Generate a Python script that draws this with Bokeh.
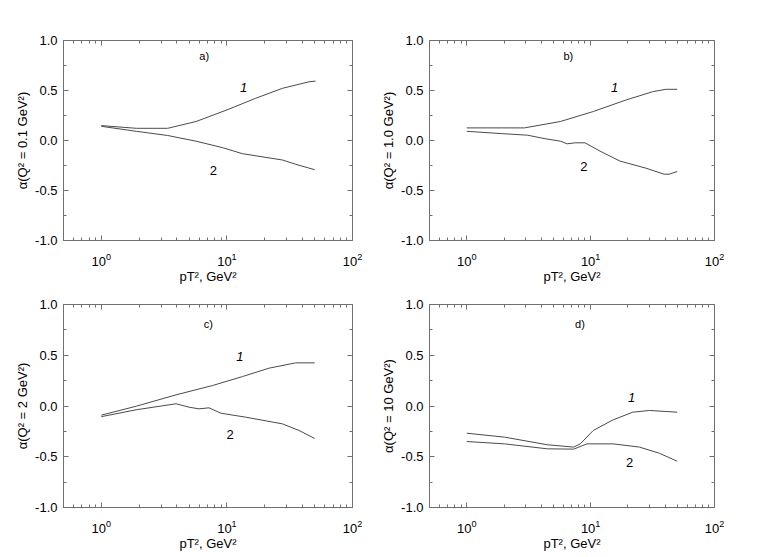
from bokeh.plotting import figure
from bokeh.models import LinearAxis, FixedTicker, Range1d, PrintfTickFormatter
from bokeh.layouts import column, row
from bokeh.embed import file_html
from bokeh.resources import INLINE
from bokeh.core.properties import value

# ---- data ----
a_x1 = [1.0, 1.9, 3.38, 5.68, 10.4, 17.0, 27.7, 45.0, 50.8]
a_y1 = [0.149, 0.122, 0.122, 0.19, 0.314, 0.423, 0.522, 0.587, 0.594]
a_x2 = [1.0, 1.9, 3.38, 5.68, 9.25, 13.3, 27.7, 35.3, 50.0]
a_y2 = [0.142, 0.092, 0.05, -0.007, -0.072, -0.132, -0.195, -0.238, -0.292]

b_x1 = [1.0, 2.92, 5.7, 10.5, 19.4, 31.7, 40.5, 50.0]
b_y1 = [0.126, 0.126, 0.19, 0.29, 0.406, 0.488, 0.512, 0.512]
b_x2 = [1.0, 1.9, 3.1, 4.2, 5.7, 6.46, 7.5, 9.0, 11.9, 17.2, 28.0, 39.2, 43.0, 50.0]
b_y2 = [0.092, 0.069, 0.053, 0.02, -0.007, -0.033, -0.023, -0.023, -0.106, -0.205, -0.277, -0.337, -0.337, -0.31]

c_x1 = [1.0, 1.9, 3.94, 7.7, 13.3, 21.7, 35.3, 50.0]
c_y1 = [-0.09, -0.002, 0.11, 0.202, 0.29, 0.373, 0.425, 0.425]
c_x2 = [1.0, 1.9, 3.94, 5.0, 6.0, 7.2, 8.96, 14.1, 27.7, 37.5, 50.0]
c_y2 = [-0.105, -0.037, 0.022, -0.012, -0.028, -0.018, -0.071, -0.11, -0.176, -0.241, -0.32]

d_x1 = [1.0, 2.02, 4.48, 7.3, 8.25, 10.5, 15.2, 21.9, 29.8, 50.0]
d_y1 = [-0.268, -0.307, -0.382, -0.405, -0.373, -0.241, -0.136, -0.061, -0.044, -0.061]
d_x2 = [1.0, 2.02, 4.48, 7.3, 9.33, 15.2, 24.8, 35.8, 50.0]
d_y2 = [-0.35, -0.373, -0.422, -0.425, -0.373, -0.373, -0.405, -0.465, -0.544]

panel_tags = ["a)", "b)", "c)", "d)"]
y_labels = ["\u03b1(Q\u00b2 = 0.1 GeV\u00b2)", "\u03b1(Q\u00b2 = 1.0 GeV\u00b2)",
            "\u03b1(Q\u00b2 = 2 GeV\u00b2)", "\u03b1(Q\u00b2 = 10 GeV\u00b2)"]
x_label = "pT\u00b2, GeV\u00b2"

# annotation positions (data coords): tag, curve 1 label, curve 2 label
tag_pos = [(6.6, 0.85), (6.6, 0.85), (7.1, 0.81), (8.2, 0.81)]
lab1_pos = [(13.6, 0.535), (15.6, 0.535), (12.7, 0.49), (21.4, 0.08)]
lab2_pos = [(7.8, -0.30), (8.8, -0.26), (10.6, -0.28), (20.6, -0.56)]

y_major = [-1.0, -0.5, 0.0, 0.5, 1.0]
y_minor = [-0.75, -0.25, 0.25, 0.75]
x_major = [1, 10, 100]
x_minor = [0.5, 0.6, 0.7, 0.8, 0.9, 2, 3, 4, 5, 6, 7, 8, 9, 20, 30, 40, 50, 60, 70, 80, 90]

FONT = "Liberation Sans"
LINE = "#4a4a4a"
AX = "#707070"


def style_axis(ax, show_labels=True):
    ax.axis_line_color = AX
    ax.major_tick_line_color = AX
    ax.minor_tick_line_color = AX
    ax.major_tick_in = 5
    ax.major_tick_out = 0
    ax.minor_tick_in = 3
    ax.minor_tick_out = 0
    ax.major_label_text_font = FONT
    ax.major_label_text_color = "black"
    ax.axis_label_text_font = FONT
    ax.axis_label_text_font_style = "normal"
    ax.axis_label_text_font_size = "13px"
    ax.axis_label_text_color = "black"
    if show_labels:
        ax.major_label_text_font_size = "13px"
    else:
        ax.major_label_text_font_size = "1px"
        ax.major_label_text_alpha = 0
        ax.major_label_standoff = 0


def make_panel(i, xs1, ys1, xs2, ys2, width, height, bl, br, bt, bb):
    p = figure(width=width, height=height, x_axis_type="log",
               x_range=Range1d(0.5, 100), y_range=Range1d(-1, 1),
               output_backend="svg", toolbar_location=None,
               min_border_left=bl, min_border_right=br,
               min_border_top=bt, min_border_bottom=bb)
    p.grid.visible = False
    p.outline_line_color = AX
    p.background_fill_color = "white"
    p.border_fill_color = "white"

    p.xaxis.ticker = FixedTicker(ticks=x_major, minor_ticks=x_minor)
    p.yaxis.ticker = FixedTicker(ticks=y_major, minor_ticks=y_minor)
    p.yaxis.formatter = PrintfTickFormatter(format="%.1f")
    for ax in p.xaxis + p.yaxis:
        style_axis(ax)
    p.xaxis.major_label_standoff = 12
    p.xaxis.axis_label_standoff = 0
    p.yaxis.major_label_standoff = 6
    p.yaxis.axis_label_standoff = 2
    p.xaxis.axis_label = x_label
    p.yaxis.axis_label = y_labels[i]

    top = LinearAxis(ticker=FixedTicker(ticks=x_major, minor_ticks=x_minor))
    style_axis(top, show_labels=False)
    p.add_layout(top, "above")
    right = LinearAxis(ticker=FixedTicker(ticks=y_major, minor_ticks=y_minor))
    style_axis(right, show_labels=False)
    p.add_layout(right, "right")

    p.line(xs1, ys1, line_color=LINE, line_width=1)
    p.line(xs2, ys2, line_color=LINE, line_width=1)

    p.text(x=[tag_pos[i][0]], y=[tag_pos[i][1]], text=[panel_tags[i]],
           text_font=value(FONT), text_font_size="11px", text_align="center",
           text_baseline="middle", text_color="black")
    p.text(x=[lab1_pos[i][0]], y=[lab1_pos[i][1]], text=["1"],
           text_font=value(FONT), text_font_size="13px", text_font_style="italic",
           text_align="center", text_baseline="middle", text_color="black")
    p.text(x=[lab2_pos[i][0]], y=[lab2_pos[i][1]], text=["2"],
           text_font=value(FONT), text_font_size="13px",
           text_align="center", text_baseline="middle", text_color="black")
    return p


pa = make_panel(0, a_x1, a_y1, a_x2, a_y2, 378, 286, 63, 26, 40, 44)
pb = make_panel(1, b_x1, b_y1, b_x2, b_y2, 382, 286, 47, 46, 40, 44)
pc = make_panel(2, c_x1, c_y1, c_x2, c_y2, 378, 269, 63, 26, 18, 48)
pd = make_panel(3, d_x1, d_y1, d_x2, d_y2, 382, 269, 47, 46, 18, 48)

layout = column(row(pa, pb), row(pc, pd))
open("out.html", "w").write(file_html(layout, INLINE))
